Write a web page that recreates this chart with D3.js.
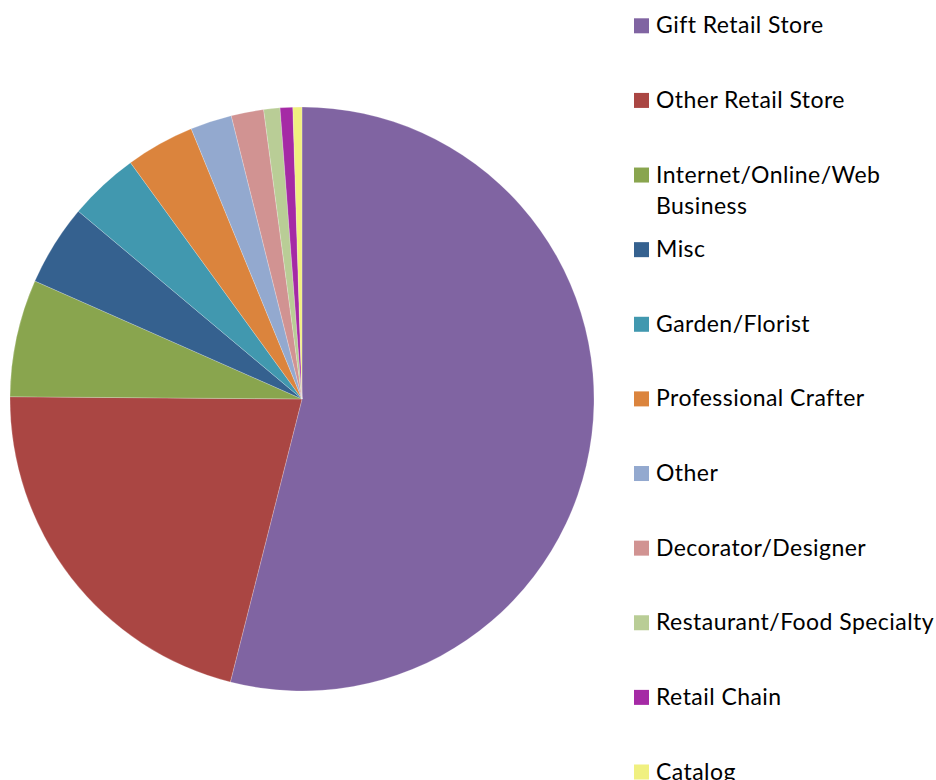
<!DOCTYPE html>
<html>
<head>
<meta charset="utf-8">
<script src="https://cdn.jsdelivr.net/npm/d3@7/dist/d3.min.js"></script>
<style>
  html, body { margin: 0; padding: 0; background: #fff; }
  svg { display: block; }
  .legend text { font-family: Lato, "Open Sans", sans-serif; font-size: 23px; letter-spacing: 0.45px; fill: #000; }
</style>
</head>
<body>
<div id="chart"></div>
<script>
// Customer type breakdown (percent share)
const categories = [
  "Gift Retail Store",
  "Other Retail Store",
  "Internet/Online/Web Business",
  "Misc",
  "Garden/Florist",
  "Professional Crafter",
  "Other",
  "Decorator/Designer",
  "Restaurant/Food Specialty",
  "Retail Chain",
  "Catalog"
];
const values = [54.0, 21.2, 6.5, 4.5, 3.9, 3.8, 2.3, 1.8, 0.9, 0.7, 0.5];
const colors = [
  "#8064A2", "#AA4643", "#89A54E", "#35618F", "#4198AF", "#DB843D",
  "#93A9CF", "#D19392", "#B9CD96", "#A52AA5", "#F0F080"
];
// Legend lines (long labels wrap onto a second line)
const legendLines = [
  ["Gift Retail Store"],
  ["Other Retail Store"],
  ["Internet/Online/Web", "Business"],
  ["Misc"],
  ["Garden/Florist"],
  ["Professional Crafter"],
  ["Other"],
  ["Decorator/Designer"],
  ["Restaurant/Food Specialty"],
  ["Retail Chain"],
  ["Catalog"]
];

const W = 936, H = 780;
const cx = 302, cy = 399, R = 292;

const svg = d3.select("#chart").append("svg")
  .attr("width", W).attr("height", H);

const data = categories.map((c, i) => ({ name: c, value: values[i], color: colors[i], lines: legendLines[i] }));

const pie = d3.pie().value(d => d.value).sort(null);
const arc = d3.arc().innerRadius(0).outerRadius(R);

svg.append("g")
  .attr("transform", `translate(${cx},${cy})`)
  .selectAll("path")
  .data(pie(data))
  .join("path")
  .attr("d", arc)
  .attr("fill", d => d.data.color)
  .attr("stroke", "rgba(255,255,255,0.35)")
  .attr("stroke-width", 0.6);

// Legend
const legendY = d3.scaleLinear().domain([0, categories.length - 1]).range([25.8, 772]);
const legend = svg.append("g").attr("class", "legend");
const item = legend.selectAll("g")
  .data(data)
  .join("g")
  .attr("transform", (d, i) => `translate(634,${legendY(i)})`);

item.append("rect")
  .attr("x", 0).attr("y", -7.5)
  .attr("width", 15).attr("height", 15)
  .attr("fill", d => d.color);

item.append("text")
  .selectAll("tspan")
  .data(d => d.lines)
  .join("tspan")
  .attr("x", 22)
  .attr("y", (l, j) => j * 31)
  .attr("dy", "0.33em")
  .text(l => l);
</script>
</body>
</html>
